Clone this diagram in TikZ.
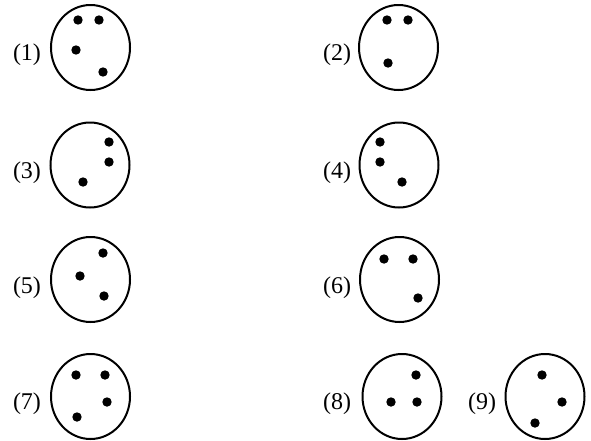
\documentclass[tikz,border=0pt]{standalone}
\usepackage{fontspec}
\setmainfont{Liberation Serif}
\tikzset{
  ring/.style={line width=2pt},
  dot/.style={fill=black},
  lab/.style={font=\fontsize{24}{27}\selectfont, inner sep=0pt, anchor=center}
}
\begin{document}
\begin{tikzpicture}[x=1pt,y=-1pt]
\useasboundingbox (0,0) rectangle (591,440);
% circles
\foreach \n/\cx/\cy in {1/90.5/47.5, 2/398.5/47.5, 3/90/165, 4/399/165, 5/90.5/279.5, 6/399.5/279.5, 7/90.5/396.5, 8/402/396.5, 9/545/396.5}{
  \draw[ring] (\cx,\cy) ellipse [x radius=39.5, y radius=42.5];
}
% labels
\node[lab] (l1) at (27,55) {(1)};
\node[lab] (l2) at (337,55) {(2)};
\node[lab] (l3) at (27,173) {(3)};
\node[lab] (l4) at (337,173) {(4)};
\node[lab] (l5) at (27,288) {(5)};
\node[lab] (l6) at (337,288) {(6)};
\node[lab] (l7) at (27,404) {(7)};
\node[lab] (l8) at (337,404) {(8)};
\node[lab] (l9) at (482,404) {(9)};
% dots
\foreach \x/\y in {
  78/20, 99/20, 76/50, 103/72,
  387/20, 408/20, 388/63,
  109/142, 109/162, 83/182,
  380/142, 380/162, 402/182,
  103/253, 80/276, 104/296,
  384/259, 413/259, 418/298,
  76/375, 105/375, 107/402, 77/417,
  416/375, 391/402, 417/402,
  542/375, 562/402, 535/423}{
  \fill[dot] (\x,\y) circle [radius=4.7];
}
\end{tikzpicture}
\end{document}
